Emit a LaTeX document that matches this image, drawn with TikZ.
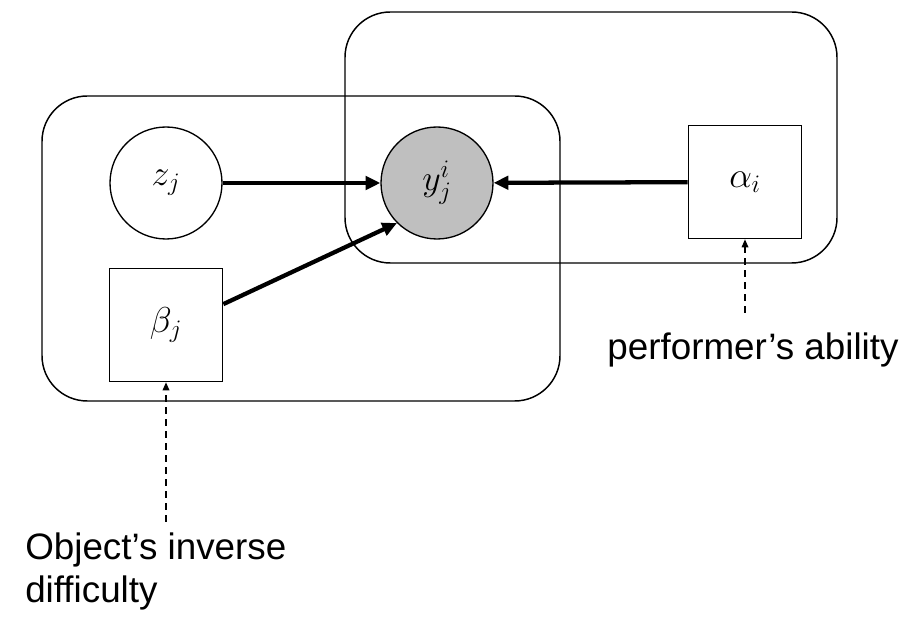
\documentclass[tikz,border=0pt]{standalone}
\usepackage{fix-cm}
\usepackage{fontspec}
\setmainfont{Liberation Sans}
\usetikzlibrary{arrows.meta,positioning}

\definecolor{obsgray}{RGB}{191,191,191}

\tikzset{
  latent/.style={circle,draw,line width=1pt,fill=white,minimum size=84pt,inner sep=0pt,font=\fontsize{27}{30}\selectfont},
  observed/.style={latent,fill=obsgray},
  param/.style={rectangle,draw,line width=1pt,fill=white,minimum size=85pt,inner sep=0pt,font=\fontsize{27}{30}\selectfont},
  edge/.style={line width=3.2pt,-{Triangle[length=11pt,width=10pt]}},
  hint/.style={line width=0.9pt,dash pattern=on 5pt off 4pt,-{Triangle[length=6pt,width=5pt]}},
  plate/.style={line width=1.1pt,rounded corners=34pt},
  caption/.style={font=\fontsize{27.6}{32}\selectfont,inner xsep=0pt,align=left},
}

\begin{document}
\begin{tikzpicture}[x=0.75pt,y=0.75pt,yscale=-1,xscale=1]
\useasboundingbox (0,0) rectangle (918,630);

%Plates
\draw[plate] (42,96) rectangle (560,401);
\draw[plate] (345,12) rectangle (837,263);

%Nodes
\node[latent] (z) at (166,183) {$z_j$};
\node[observed] (y) at (437,183) {$y_j^i$};
\node[param] (alpha) at (745,182) {$\alpha_i$};
\node[param] (beta) at (166,325) {$\beta_j$};

%Labels
\node[caption,anchor=north,inner ysep=15pt] (perf) at (753,313) {performer’s ability};
\node[caption,anchor=north west,inner ysep=8pt] (obj) at (25,522) {Object’s inverse\\difficulty};

%Edges
\draw[edge] (z) -- (y);
\draw[edge] (alpha) -- (y);
\draw[edge] (beta.20) -- (y.225);

%Hints
\draw[hint] (perf.north -| alpha.south) -- (alpha.south);
\draw[hint] (obj.north -| beta.south) -- (beta.south);

\end{tikzpicture}
\end{document}
